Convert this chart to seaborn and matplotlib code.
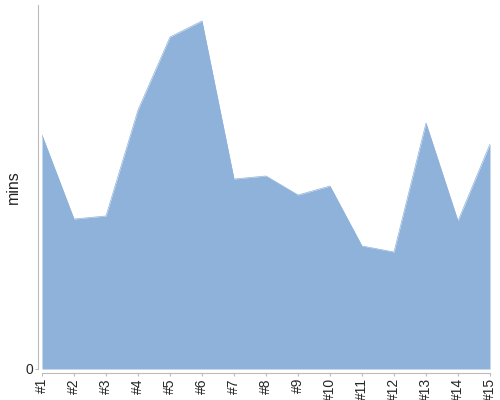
import numpy as np
import pandas as pd
import matplotlib
matplotlib.use("Agg")
import matplotlib.pyplot as plt
import seaborn as sns

labels = ["#1", "#2", "#3", "#4", "#5", "#6", "#7", "#8", "#9", "#10", "#11", "#12", "#13", "#14", "#15"]
mins = [234, 150, 153, 259, 332, 348, 190, 193, 174, 183, 123, 117, 246, 148, 225]

df = pd.DataFrame({"pos": np.arange(len(labels)), "mins": mins})

sns.set_style("white")
plt.rcParams["font.family"] = ["Liberation Sans", "DejaVu Sans"]

fig = plt.figure(figsize=(5, 4), dpi=100)
ax = fig.add_axes([0.084, 0.0775, 0.896, 0.91])

color = "#8fb2da"
sns.lineplot(data=df, x="pos", y="mins", ax=ax, color=color, linewidth=0.5)
ax.fill_between(df["pos"], df["mins"], color=color, linewidth=0)

ax.set_xlim(0, len(labels) - 1)
ax.set_ylim(0, 364)
ax.set_xticks(df["pos"])
ax.set_xticklabels(labels, fontsize=6, color="#222222")
ax.set_yticks([0])
ax.set_yticklabels(["0"], fontsize=10, color="#555555")
ax.set_xlabel("")
ax.set_ylabel("mins", fontsize=11.5, color="#222222", labelpad=3)

for s in ["top", "right"]:
    ax.spines[s].set_visible(False)
ax.spines["left"].set_position(("outward", 3))
ax.spines["bottom"].set_position(("outward", 3))
ax.spines["bottom"].set_bounds(0, len(labels) - 1)
for s in ["left", "bottom"]:
    ax.spines[s].set_color("#bbbbbb")
    ax.spines[s].set_linewidth(0.8)
ax.tick_params(axis="both", length=2.5, width=0.8, color="#bbbbbb", pad=1, bottom=True, left=True)
ax.tick_params(axis="x", labelrotation=90)
for t in ax.get_xticklabels():
    t.set_verticalalignment("top")
    t.set_horizontalalignment("center")

fig.savefig("out.png", dpi=100)
